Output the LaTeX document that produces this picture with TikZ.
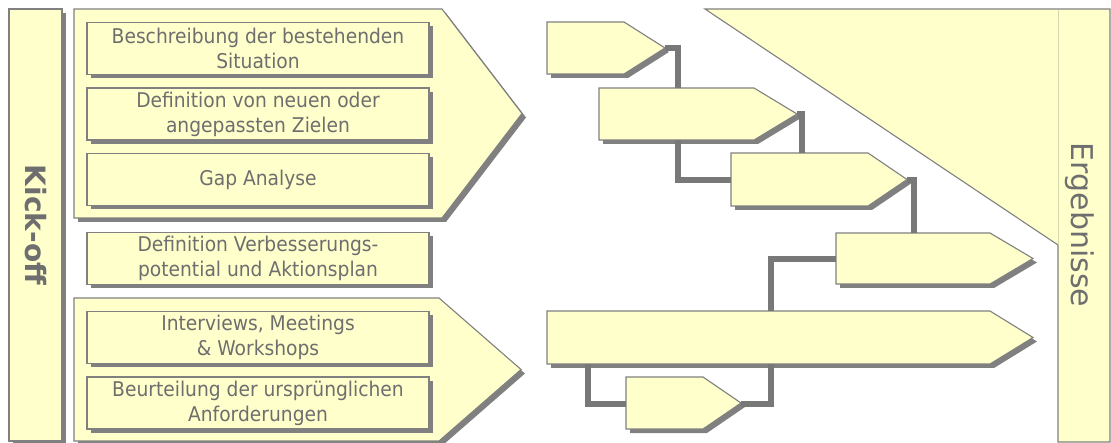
\documentclass[tikz,border=0pt]{standalone}
\usepackage{fontspec}
\setmainfont{DejaVu Sans}
\newfontfamily\boxfont{DejaVu Sans}[FakeStretch=0.92]
\usetikzlibrary{shadows}
\definecolor{fillY}{HTML}{FFFFCC}
\definecolor{edgeG}{HTML}{808080}
\definecolor{shadG}{HTML}{808080}
\definecolor{txtG}{HTML}{6E6E6E}
\definecolor{connG}{HTML}{787878}
\definecolor{sepY}{HTML}{D8D8B0}
\newcommand\mypenta[5]{% left, top, rect end, tip x, bottom
  \fill[shadG, shift={(4,4)}] (#1,#2) -- (#3,#2) -- (#4,{(#2+#5)/2}) -- (#3,#5) -- (#1,#5) -- cycle;
  \draw[shapeline] (#1,#2) -- (#3,#2) -- (#4,{(#2+#5)/2}) -- (#3,#5) -- (#1,#5) -- cycle;
}
\begin{document}
\begin{tikzpicture}[x=1pt,y=-1pt,
  shapeline/.style={fill=fillY,draw=edgeG,line width=1.1pt},
  boxnode/.style={shapeline,minimum width=342pt,minimum height=52pt,inner sep=0pt,
    drop shadow={shadow xshift=4pt,shadow yshift=-4pt,fill=shadG,opacity=1},
    text=txtG,font=\boxfont\fontsize{20.3}{25}\selectfont,align=center},
  conn/.style={draw=connG,line width=6pt,line cap=butt,line join=miter},
  connshadow/.style={draw=shadG,line width=6pt,line cap=butt,line join=miter,shift={(3,3)}},
  sidelbl/.style={text=txtG,rotate=-90,inner sep=0pt}
]
\useasboundingbox (0,0) rectangle (1111,443);

% Kick-off bar
\node[shapeline,minimum width=53pt,minimum height=432pt,inner sep=0pt,
  drop shadow={shadow xshift=4pt,shadow yshift=-4pt,fill=shadG,opacity=1}] (kick) at (35.5,225) {};
\node[sidelbl,font=\fontsize{28}{30}\selectfont\bfseries] (kicklbl) at (kick.center) {Kick-off};

% big left arrows
\mypenta{74}{9}{442}{522}{218}
\mypenta{74}{298}{439}{521}{441}

% boxes
\node[boxnode] (b1) at (258,48.5) {Beschreibung der bestehenden\\Situation};
\node[boxnode] (b2) at (258,114) {Definition von neuen oder\\angepassten Zielen};
\node[boxnode] (b3) at (258,179.5) {Gap Analyse};
\node[boxnode] (b4) at (258,258.5) {Definition Verbesserungs-\\potential und Aktionsplan};
\node[boxnode] (b5) at (258,337.5) {Interviews, Meetings\\\& Workshops};
\node[boxnode] (b6) at (258,403) {Beurteilung der ursprünglichen\\Anforderungen};

% Ergebnisse triangle and bar
\fill[fillY] (705,9) -- (1110,9) -- (1110,442) -- (1058,442) -- (1058,245) -- cycle;
\draw[edgeG,line width=1.1pt] (705,9) -- (1110,9) -- (1110,442) -- (1058,442) -- (1058,245) -- cycle;
\draw[sepY,line width=1pt] (1058,9.6) -- (1058,244.5);
\node[sidelbl,font=\fontsize{30}{32}\selectfont] (erg) at (1080,225) {Ergebnisse};

% small arrows
\mypenta{547}{22}{624}{665}{74}
\mypenta{599}{88}{754}{797}{140}
\mypenta{731}{153}{868}{907}{206}
\mypenta{836}{233}{990}{1033}{284}
\mypenta{547}{311}{990}{1033}{364}
\mypenta{626}{377}{703}{741}{429}

% anchor coordinates
\coordinate (p1tip) at (665,48);
\coordinate (p2top) at (678,88);
\coordinate (p2tip) at (797,114);
\coordinate (p2bot) at (678,140);
\coordinate (p3top) at (802,153);
\coordinate (p3left) at (731,180);
\coordinate (p3tip) at (907,180);
\coordinate (p4top) at (914,233);
\coordinate (p4left) at (836,259);
\coordinate (p5top) at (771,311);
\coordinate (p5bot) at (588,364);
\coordinate (p5botr) at (771,364);
\coordinate (p6left) at (626,404);
\coordinate (p6tip) at (741,404);

% connectors
\foreach \a/\op/\b in {p1tip/-|/p2top, p2tip/-|/p3top, p3tip/-|/p4top, p2bot/|-/p3left,
                       p5top/|-/p4left, p5bot/|-/p6left, p6tip/-|/p5botr}{
  \draw[connshadow] (\a) \op (\b);
}
\draw[conn] (p1tip) -| (p2top);
\draw[conn] (p2tip) -| (p3top);
\draw[conn] (p3tip) -| (p4top);
\draw[conn] (p2bot) |- (p3left);
\draw[conn] (p5top) |- (p4left);
\draw[conn] (p5bot) |- (p6left);
\draw[conn] (p6tip) -| (p5botr);
\end{tikzpicture}
\end{document}
